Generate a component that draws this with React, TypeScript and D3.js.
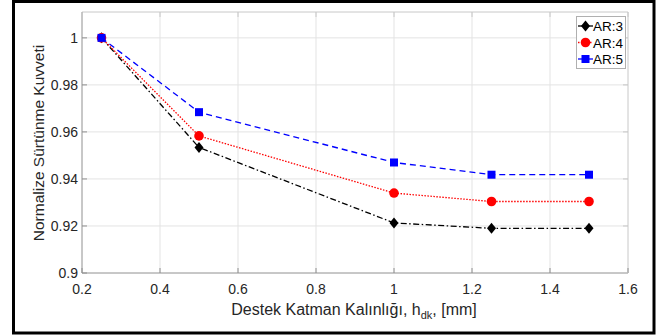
import React from "react";
import * as d3 from "d3";

const xValues = [0.25, 0.5, 1.0, 1.25, 1.5];
const ar3 = [1.0, 0.9534, 0.9213, 0.919, 0.919];
const ar4 = [1.0, 0.9583, 0.934, 0.9304, 0.9304];
const ar5 = [1.0, 0.9684, 0.947, 0.9418, 0.9418];
const seriesNames = ["AR:3", "AR:4", "AR:5"];
const xTicks = [0.2, 0.4, 0.6, 0.8, 1, 1.2, 1.4, 1.6];
const yTicks = [0.9, 0.92, 0.94, 0.96, 0.98, 1];

const W = 660, H = 336;
const L = 82, T = 12, R = 628, B = 273;

export default function App() {
  const x = d3.scaleLinear().domain([0.2, 1.6]).range([L, R]);
  const y = d3.scaleLinear().domain([0.9, 1.011]).range([B, T]);
  const line = d3.line<[number, number]>().x(d => x(d[0])).y(d => y(d[1]));
  const series = [
    { name: seriesNames[0], vals: ar3, color: "#000000", dash: "6,2.5,1.5,2.5", marker: "diamond" },
    { name: seriesNames[1], vals: ar4, color: "#ff0000", dash: "1.5,1.5", marker: "circle" },
    { name: seriesNames[2], vals: ar5, color: "#0000ff", dash: "6,4", marker: "square" },
  ];
  const marker = (m: string, cx: number, cy: number, c: string, k: string) => {
    if (m === "diamond") return <path key={k} d={`M${cx},${cy - 5.5}L${cx + 4.5},${cy}L${cx},${cy + 5.5}L${cx - 4.5},${cy}Z`} fill={c} />;
    if (m === "circle") return <circle key={k} cx={cx} cy={cy} r={4.8} fill={c} />;
    return <rect key={k} x={cx - 4} y={cy - 4} width={8} height={8} fill={c} />;
  };
  const font = "Liberation Sans, Arial, sans-serif";
  const tickColor = "#262626";
  return (
    <svg width={W} height={H} style={{ position: "absolute", left: 0, top: 0, background: "#fff" }} fontFamily={font}>
      <rect x={0} y={0} width={W} height={H} fill="#fff" />
      <rect x={13.5} y={1.5} width={640.5} height={331.5} fill="none" stroke="#000" strokeWidth={3} />
      {/* grid */}
      {xTicks.slice(1, -1).map((t, i) => (
        <line key={"gx" + i} x1={x(t)} x2={x(t)} y1={T} y2={B} stroke="#e3e3e3" strokeWidth={1} />
      ))}
      {yTicks.slice(1).map((t, i) => (
        <line key={"gy" + i} x1={L} x2={R} y1={y(t)} y2={y(t)} stroke="#e3e3e3" strokeWidth={1} />
      ))}
      {/* box */}
      <line x1={L} x2={R} y1={T} y2={T} stroke="#c8c8c8" />
      <line x1={R} x2={R} y1={T} y2={B} stroke="#c8c8c8" />
      <line x1={L} x2={L} y1={T} y2={B} stroke="#909090" />
      <line x1={L} x2={R} y1={B} y2={B} stroke="#909090" />
      {/* ticks */}
      {xTicks.map((t, i) => (
        <g key={"tx" + i}>
          <line x1={x(t)} x2={x(t)} y1={B} y2={B - 5} stroke="#909090" />
          <line x1={x(t)} x2={x(t)} y1={T} y2={T + 5} stroke="#c8c8c8" />
          <text x={x(t)} y={294} textAnchor="middle" fontSize={14} fill={tickColor}>{d3.format("~g")(t)}</text>
        </g>
      ))}
      {yTicks.map((t, i) => (
        <g key={"ty" + i}>
          <line x1={L} x2={L + 5} y1={y(t)} y2={y(t)} stroke="#909090" />
          <line x1={R} x2={R - 5} y1={y(t)} y2={y(t)} stroke="#c8c8c8" />
          <text x={78} y={y(t) + 5} textAnchor="end" fontSize={14} fill={tickColor}>{d3.format("~g")(t)}</text>
        </g>
      ))}
      {/* axis labels */}
      <text x={354} y={315} textAnchor="middle" fontSize={16} fill={tickColor}>
        Destek Katman Kalınlığı, h<tspan dy={4} fontSize={11}>dk</tspan><tspan dy={-4}>, [mm]</tspan>
      </text>
      <text transform="translate(44,143) rotate(-90)" textAnchor="middle" fontSize={15.5} fill={tickColor}>
        Normalize Sürtünme Kuvveti
      </text>
      {/* series */}
      {series.map((s, si) => (
        <g key={"s" + si}>
          <path d={line(xValues.map((v, i) => [v, s.vals[i]] as [number, number])) || ""} fill="none" stroke={s.color} strokeWidth={1.3} strokeDasharray={s.dash} />
          {xValues.map((v, i) => marker(s.marker, x(v), y(s.vals[i]), s.color, "m" + si + i))}
        </g>
      ))}
      {/* legend */}
      <rect x={576.5} y={16.5} width={49} height={52} fill="#fff" stroke="#b0b0b0" />
      {series.map((s, si) => {
        const ly = 26 + si * 16.5;
        return (
          <g key={"l" + si}>
            <line x1={578} x2={593} y1={ly} y2={ly} stroke={s.color} strokeWidth={1.3} strokeDasharray={si === 1 ? "1.5,1.5" : undefined} />
            {marker(s.marker, 585.5, ly, s.color, "lm" + si)}
            <text x={593} y={ly + 5} fontSize={13.5} fill="#000">{s.name}</text>
          </g>
        );
      })}
    </svg>
  );
}
